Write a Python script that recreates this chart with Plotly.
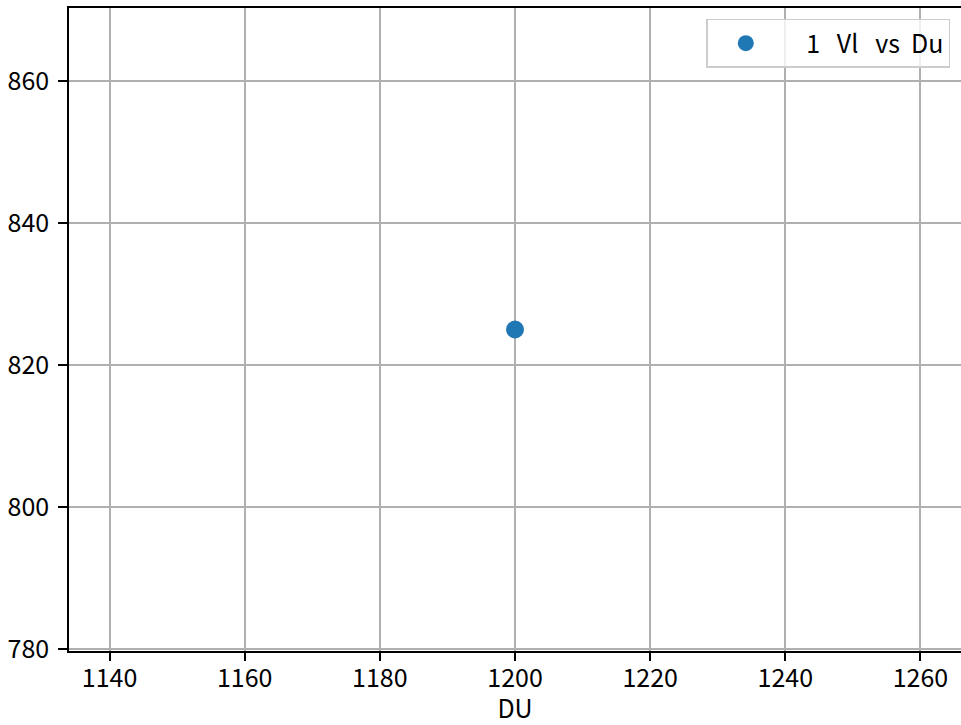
import plotly.graph_objects as go

du_values = [1200]
vl_values = [825]
series_name = "1\u00a0\u00a0\u00a0Vl\u00a0\u00a0\u00a0vs\u00a0\u00a0Du"
x_ticks = [1140, 1160, 1180, 1200, 1220, 1240, 1260]
y_ticks = [780, 800, 820, 840, 860]

FONT = "Noto Sans CJK JP"
FS = 25

fig = go.Figure()
fig.add_trace(go.Scatter(
    x=du_values, y=vl_values, mode="markers",
    name="\u00a0\u00a0\u00a0\u00a0" + series_name,
    marker=dict(size=18, color="#1f77b4"),
))

axis_common = dict(
    showgrid=True, gridcolor="#b0b0b0", gridwidth=1.5,
    showline=True, linecolor="black", linewidth=1.5,
    ticks="outside", tickwidth=1.5, tickcolor="black",
    zeroline=False, automargin=False,
    tickfont=dict(family=FONT, size=FS, color="black"),
)

fig.update_xaxes(
    range=[1134, 1266], tickvals=x_ticks, mirror=True, ticklen=8,
    ticklabelstandoff=-4,
    title=dict(text="DU", font=dict(family=FONT, size=FS, color="black"), standoff=10),
    **axis_common,
)
fig.update_yaxes(
    range=[779.72, 870.28], tickvals=y_ticks, mirror=False, ticklen=9,
    ticklabelstandoff=4,
    **axis_common,
)

fig.update_layout(
    width=961, height=725,
    margin=dict(l=69, r=0, t=8, b=74, autoexpand=False),
    plot_bgcolor="white", paper_bgcolor="white",
    font=dict(family=FONT, size=FS, color="black"),
    showlegend=True,
    legend=dict(
        x=0.988, y=0.983, xanchor="right", yanchor="top",
        bgcolor="rgba(255,255,255,0.8)", bordercolor="#cccccc", borderwidth=1.5,
        itemwidth=66,
        font=dict(family=FONT, size=FS, color="black"),
    ),
)

fig.write_html(
    "out.html",
    config={"displayModeBar": False},
    post_script="document.body.style.margin='0';document.body.style.overflow='hidden';",
)
